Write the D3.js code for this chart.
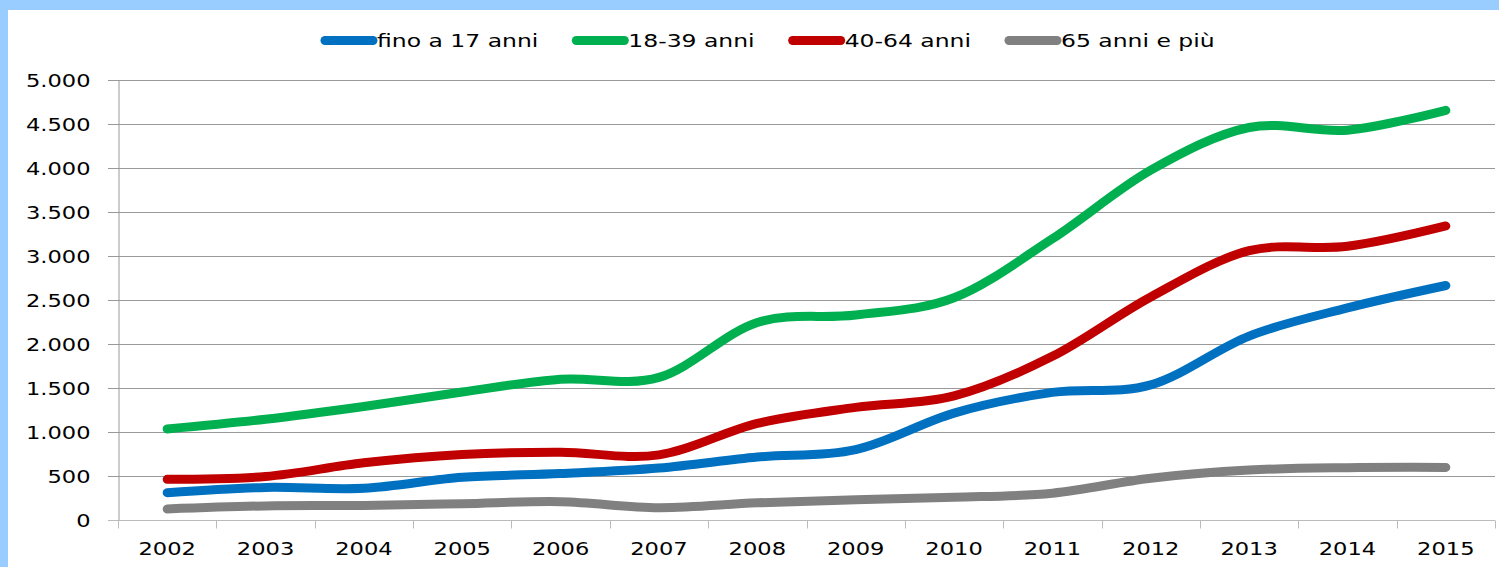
<!DOCTYPE html>
<html><head><meta charset="utf-8">
<script src="https://cdnjs.cloudflare.com/ajax/libs/d3/7.8.5/d3.min.js"></script>
<style>body{margin:0;background:#fff;} svg{display:block;} text{font-family:"DejaVu Sans",Verdana,sans-serif;fill:#000;}</style>
</head><body>
<svg id="chart" width="1499" height="567"></svg>
<script>
const years = ["2002","2003","2004","2005","2006","2007","2008","2009","2010","2011","2012","2013","2014","2015"];
const seriesNames = ["fino a 17 anni","18-39 anni","40-64 anni","65 anni e più"];
const seriesColors = ["#0070C0","#00B050","#C00000","#808080"];
const fino17 = [310, 370, 360, 485, 528, 590, 715, 800, 1215, 1450, 1535, 2090, 2410, 2665];
const a18_39 = [1035, 1145, 1290, 1455, 1600, 1620, 2245, 2330, 2525, 3195, 3975, 4460, 4430, 4655];
const a40_64 = [462, 495, 650, 745, 770, 740, 1098, 1280, 1410, 1860, 2535, 3060, 3110, 3341];
const a65plus = [125, 160, 165, 185, 208, 140, 195, 230, 258, 305, 475, 568, 595, 598];
const yTicks = [0,500,1000,1500,2000,2500,3000,3500,4000,4500,5000];

(function(){
const seriesValues = [fino17, a18_39, a40_64, a65plus];
const SX = 1.22, LSX = 1.27;
const svg = d3.select("#chart");
svg.append("rect").attr("width",1499).attr("height",567).attr("fill","#99CCFF");
svg.append("rect").attr("x",8).attr("y",10).attr("width",1491).attr("height",557).attr("fill","#fff");

const mLeft = 118, mRight = 1495, mTop = 80, mBottom = 520;
const x = d3.scaleBand().domain(years).range([mLeft,mRight]).padding(0);
const y = d3.scaleLinear().domain([0,5000]).range([mBottom,mTop]);
const loc = d3.formatLocale({decimal:",",thousands:".",grouping:[3],currency:["€",""]});
const fmt = loc.format(",");

// gridlines
svg.append("g").selectAll("line").data(yTicks.filter(d=>d>0)).join("line")
  .attr("x1",108).attr("x2",mRight).attr("y1",d=>Math.round(y(d))+0.5).attr("y2",d=>Math.round(y(d))+0.5)
  .attr("stroke","#999").attr("stroke-width",1);

// y axis
const yAxis = svg.append("g").attr("transform",`translate(${mLeft+0.5},0)`)
  .call(d3.axisLeft(y).tickValues(yTicks).tickFormat(fmt).tickSize(10).tickPadding(18));
yAxis.select(".domain").attr("stroke","#999");
yAxis.selectAll(".tick line").attr("stroke","#999");
yAxis.selectAll(".tick text").attr("font-size",18.5).attr("font-family","DejaVu Sans")
  .attr("x",-28/SX).attr("transform",`scale(${SX},1)`).attr("dy","0.35em");
yAxis.selectAll(".tick").attr("transform",d=>`translate(0,${Math.round(y(d))+0.5})`);

// x axis
const xg = svg.append("g").attr("transform",`translate(0,${mBottom+0.5})`);
xg.append("line").attr("x1",108).attr("x2",mRight).attr("stroke","#bbb");
const bounds = years.map(d=>x(d)).concat([mRight]);
xg.selectAll("line.tk").data(bounds).join("line").attr("class","tk")
  .attr("x1",d=>Math.round(d)+0.5).attr("x2",d=>Math.round(d)+0.5).attr("y1",0).attr("y2",8).attr("stroke","#bbb");
const xAxis = svg.append("g").attr("transform",`translate(0,${mBottom})`)
  .call(d3.axisBottom(x).tickSize(0).tickPadding(22));
xAxis.select(".domain").remove();
xAxis.selectAll(".tick text").attr("font-size",18.5).attr("font-family","DejaVu Sans")
  .attr("transform",`scale(${SX},1)`).attr("dy","0.71em");

// lines
const line = d3.line().x((d,i)=>x(years[i])+x.bandwidth()/2).y(d=>y(d)).curve(d3.curveCatmullRom.alpha(0));
const order = [3,0,2,1];
svg.append("g").selectAll("path").data(order).join("path")
  .attr("d",k=>line(seriesValues[k])).attr("fill","none").attr("stroke",k=>seriesColors[k])
  .attr("stroke-width",9).attr("stroke-linecap","round").attr("stroke-linejoin","round");

// legend
const lg = svg.append("g");
let cx = 321;
seriesNames.forEach((n,i)=>{
  lg.append("line").attr("x1",cx+4).attr("x2",cx+52).attr("y1",40.5).attr("y2",40.5)
    .attr("stroke",seriesColors[i]).attr("stroke-width",9).attr("stroke-linecap","round");
  const t = lg.append("text").attr("x",(cx+56)/LSX).attr("y",47).attr("font-size",18.5)
    .attr("transform",`scale(${LSX},1)`).text(n);
  const w = t.node().getComputedTextLength()*LSX;
  cx = cx + 56 + w + 34;
});
})();
</script>
</body></html>
